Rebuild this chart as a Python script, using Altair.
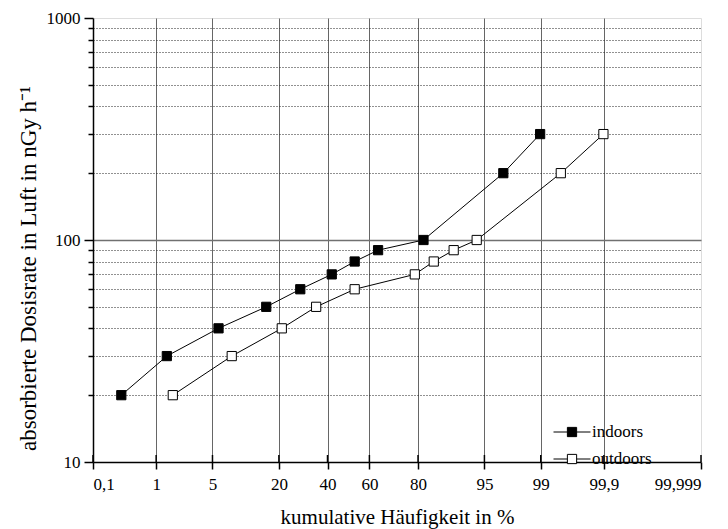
import altair as alt
import pandas as pd
from statistics import NormalDist

# ---------------- data ----------------
series_names = ["indoors", "outdoors"]
indoor_pct = [0.30, 1.40, 5.8, 16.0, 28.0, 42.0, 53.0, 64.0, 81.8, 96.95, 98.98]
indoor_dose = [20, 30, 40, 50, 60, 70, 80, 90, 100, 200, 300]
outdoor_pct = [1.68, 7.9, 21.0, 34.8, 53.0, 78.9, 84.9, 89.85, 93.96, 99.49, 99.898]
outdoor_dose = [20, 30, 40, 50, 60, 70, 80, 90, 100, 200, 300]

x_tick_pct = [0.1, 1, 5, 20, 40, 60, 80, 95, 99, 99.9, 99.999]
x_tick_labels = ["0,1", "1", "5", "20", "40", "60", "80", "95", "99", "99,9", "99,999"]
y_major = [10, 100, 1000]
y_minor = [20, 30, 40, 50, 60, 70, 80, 90, 200, 300, 400, 500, 600, 700, 800, 900]

x_title = "kumulative Häufigkeit in %"
y_title = "absorbierte Dosisrate in Luft in nGy h⁻¹"

# ---------------- layout ----------------
W, H = 608, 444
FONT = "Liberation Serif"

nd = NormalDist()
x_ticks = [nd.inv_cdf(p / 100) for p in x_tick_pct]
x_lo, x_hi = x_ticks[0], x_ticks[-1]

parts = []
for i in range(len(x_ticks) - 1):
    mid = (x_ticks[i] + x_ticks[i + 1]) / 2
    parts.append(f"datum.value < {mid:.6f} ? '{x_tick_labels[i]}' : ")
label_expr = "".join(parts) + f"'{x_tick_labels[-1]}'"

df = pd.DataFrame({
    "pct": indoor_pct + outdoor_pct,
    "dose": indoor_dose + outdoor_dose,
    "series": [series_names[0]] * len(indoor_pct) + [series_names[1]] * len(outdoor_pct),
})
ticks_df = pd.DataFrame({"pct": x_tick_pct})

x_scale = alt.Scale(domain=[x_lo, x_hi], nice=False, zero=False)
y_scale = alt.Scale(type="log", domain=[10, 1000], nice=False)

x_axis = alt.Axis(
    values=x_ticks, labelExpr=label_expr, title=x_title,
    grid=True, gridColor="#666666", gridWidth=1,
    gridOpacity={"condition": {"test": f"datum.value > {x_lo + 1e-6} && datum.value < {x_hi - 1e-6}", "value": 1}, "value": 0},
    tickSize=7, tickWidth=1.5, tickColor="black",
    domainColor="black", domainWidth=1.5,
    labelFont=FONT, labelFontSize=17, labelColor="black", labelPadding=7,
    titleFont=FONT, titleFontSize=21, titleFontWeight="normal", titleColor="black", titlePadding=14,
)

y_major_axis = alt.Axis(
    values=y_major, format="d", title=y_title, orient="left",
    grid=True, gridColor="#707070", gridWidth=1.5,
    gridOpacity={"condition": {"test": "datum.value == 100", "value": 1}, "value": 0},
    tickSize=9, tickWidth=1.5, tickColor="black",
    domainColor="black", domainWidth=1.5,
    labelFont=FONT, labelFontSize=17, labelColor="black", labelPadding=4,
    titleFont=FONT, titleFontSize=23, titleFontWeight="normal", titleColor="black", titlePadding=6,
    titleY=250,
)

y_minor_axis = alt.Axis(
    values=y_minor, labels=False, title=None, orient="left", domain=False,
    grid=True, gridColor="#222222", gridDash=[1, 2], gridWidth=1,
    tickSize=5, tickWidth=1.5, tickColor="black",
)

X = alt.X("z:Q", scale=x_scale, axis=x_axis)

base = alt.Chart(df).transform_calculate(z="quantileNormal(datum.pct / 100)")

lines = base.mark_line(color="black", strokeWidth=1).encode(
    x=X,
    y=alt.Y("dose:Q", scale=y_scale, axis=y_major_axis),
    detail="series:N",
)

legend_path = "M-1,0L-0.25,0M0.25,0L1,0M-0.25,-0.25L0.25,-0.25L0.25,0.25L-0.25,0.25Z"

points = base.mark_point(shape="square", filled=True, size=85, stroke="black",
                         strokeWidth=1, opacity=1).encode(
    x=X,
    y=alt.Y("dose:Q", scale=y_scale, axis=y_minor_axis),
    fill=alt.Fill("series:N", scale=alt.Scale(domain=series_names, range=["black", "white"]),
                  legend=alt.Legend(
                      title=None, orient="none", legendX=460, legendY=395,
                      symbolType=legend_path, symbolSize=1369,
                      symbolStrokeColor="black", symbolStrokeWidth=1, symbolOpacity=1,
                      labelFont=FONT, labelFontSize=17, labelColor="black",
                      labelOffset=1, rowPadding=-10, padding=0,
                  )),
)

inner_ticks = alt.Chart(ticks_df).transform_calculate(
    z="quantileNormal(datum.pct / 100)"
).mark_rule(color="black", strokeWidth=1.5).encode(
    x=X,
    y=alt.value(H - 7),
    y2=alt.value(H),
)

chart = alt.layer(lines, points, inner_ticks).resolve_axis(y="independent").properties(
    width=W, height=H,
    autosize=alt.AutoSizeParams(type="none"),
    padding={"left": 93, "top": 18, "right": 27, "bottom": 67},
).configure_view(stroke="black", strokeWidth=1.5).configure(background="white")

chart.save("out.html", embed_options={"renderer": "svg", "actions": False})
